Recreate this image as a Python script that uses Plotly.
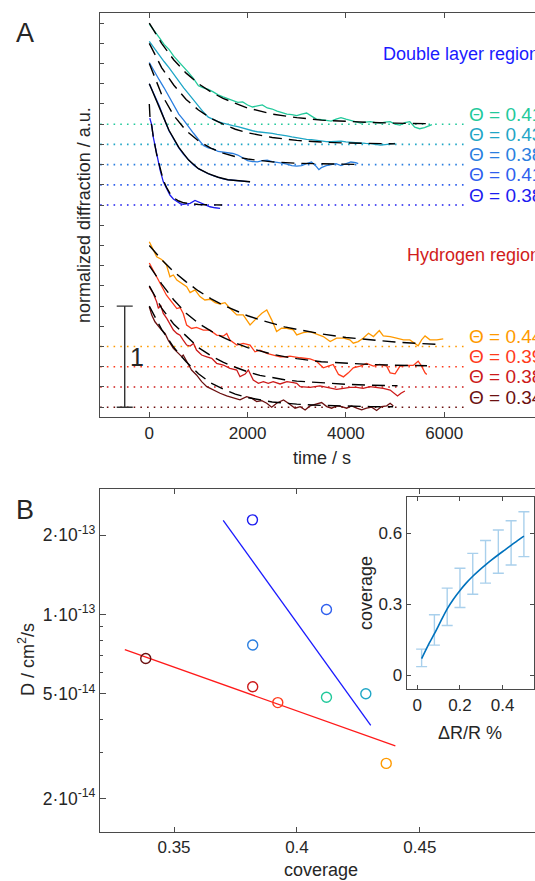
import plotly.graph_objects as go

# ---------------- DATA ----------------
# Panel A: normalized diffraction transients (normalized units, stacked by offsets)
dl_theta = ["0.41", "0.43", "0.38", "0.41", "0.38"]
dl_offsets = [2.8, 2.6, 2.4, 2.2, 2.0]
dl_colors = ["#22c99b", "#1fa6c6", "#2b7fe0", "#2f5fee", "#1c1cf0"]

h_theta = ["0.44", "0.39", "0.38", "0.34"]
h_offsets = [0.6, 0.4, 0.2, 0.0]
h_colors = ["#ff9a00", "#ff3b1c", "#cc1a1a", "#6b1010"]

baseline_extent = [-1000, 6400]

dl1_t = [0, 100, 200, 300, 400, 500, 600, 700, 800, 900, 1000, 1100, 1200, 1300, 1400, 1500, 1600, 1700, 1800, 1900,
         2000, 2100, 2200, 2300, 2400, 2500, 2600, 2700, 2800, 2900, 3000, 3100, 3200, 3300, 3400, 3500, 3600, 3700,
         3800, 3900, 4000, 4100, 4200, 4300, 4400, 4500, 4600, 4700, 4800, 4900, 5000, 5100, 5200, 5300, 5400, 5500,
         5600, 5700, 5750]
dl1_v = [0.99, 0.93, 0.86, 0.79, 0.74, 0.67, 0.62, 0.56, 0.51, 0.45, 0.38, 0.36, 0.345, 0.32, 0.29, 0.27, 0.25, 0.235,
         0.215, 0.22, 0.19, 0.17, 0.18, 0.19, 0.16, 0.15, 0.13, 0.115, 0.10, 0.095, 0.085, 0.10, 0.11, 0.08, 0.05, 0.045,
         0.04, 0.03, 0.05, 0.065, 0.05, 0.035, 0.02, 0.01, 0.02, 0.025, 0.015, 0.01, 0.02, 0.025, 0.0, -0.01, 0.015,
         0.025, -0.03, -0.045, -0.035, -0.01, -0.005]
dl1f_t = [0, 250, 500, 750, 1000, 1250, 1500, 1750, 2000, 2500, 3000, 3500, 4000, 4500, 5000, 5700]
dl1f_v = [1.0, 0.80, 0.635, 0.505, 0.40, 0.32, 0.255, 0.205, 0.16, 0.10, 0.065, 0.04, 0.025, 0.017, 0.01, 0.005]

dl2_t = [0, 100, 200, 300, 400, 500, 600, 700, 800, 900, 1000, 1100, 1200, 1300, 1400, 1500, 1600, 1700, 1800, 1900,
         2000, 2100, 2200, 2300, 2400, 2500, 2600, 2700, 2800, 2900, 3000, 3100, 3200, 3300, 3400, 3500, 3600, 3700,
         3800, 3900, 4000, 4100, 4200, 4300, 4400, 4500, 4600, 4700, 4800, 4900, 5000]
dl2_v = [1.02, 0.95, 0.89, 0.82, 0.76, 0.69, 0.62, 0.56, 0.50, 0.44, 0.37, 0.32, 0.27, 0.245, 0.225, 0.21, 0.195,
         0.185, 0.175, 0.16, 0.145, 0.135, 0.125, 0.12, 0.118, 0.11, 0.10, 0.095, 0.085, 0.075, 0.065, 0.06, 0.05,
         0.048, 0.04, 0.03, 0.028, 0.026, 0.03, 0.033, 0.025, 0.02, 0.015, 0.01, 0.01, 0.008, 0.0, -0.007, -0.002,
         0.003, 0.01]
dl2f_t = [0, 250, 500, 750, 1000, 1250, 1500, 1750, 2000, 2500, 3000, 3500, 4000, 4500, 5000]
dl2f_v = [1.0, 0.76, 0.585, 0.445, 0.34, 0.26, 0.20, 0.15, 0.115, 0.068, 0.04, 0.023, 0.014, 0.008, 0.005]

dl3_t = [0, 100, 200, 300, 400, 500, 600, 700, 800, 900, 1000, 1100, 1200, 1300, 1400, 1500, 1600, 1700, 1800, 1900,
         2000, 2100, 2200, 2300, 2400, 2500, 2600, 2700, 2800, 2900, 3000, 3100, 3200, 3300, 3400, 3450, 3500, 3600,
         3700, 3800, 3900, 4000, 4100, 4200, 4250]
dl3_v = [1.01, 0.92, 0.84, 0.76, 0.67, 0.59, 0.50, 0.44, 0.37, 0.31, 0.25, 0.19, 0.165, 0.155, 0.13, 0.125, 0.118,
         0.11, 0.095, 0.07, 0.04, 0.03, 0.028, 0.04, 0.045, 0.03, 0.025, 0.015, 0.005, -0.01, -0.015, -0.01, 0.01,
         0.026, -0.02, -0.05, -0.03, -0.01, 0.0, 0.01, -0.01, 0.005, 0.026, 0.02, 0.01]
dl3f_t = [0, 250, 500, 750, 1000, 1250, 1500, 1750, 2000, 2500, 3000, 3500, 4250]
dl3f_v = [1.0, 0.695, 0.484, 0.336, 0.234, 0.163, 0.113, 0.079, 0.055, 0.027, 0.013, 0.006, 0.002]

dl4_t = [0, 50, 100, 150, 200, 250, 300, 350, 400, 450, 500, 600, 700, 800, 900, 1000, 1100, 1200, 1300, 1400, 1500,
         1600, 1700, 1800, 1900, 2000, 2050]
dl4_v = [1.0, 0.95, 0.895, 0.845, 0.785, 0.72, 0.65, 0.595, 0.535, 0.49, 0.445, 0.365, 0.30, 0.245, 0.195, 0.16,
         0.132, 0.11, 0.09, 0.074, 0.06, 0.05, 0.044, 0.038, 0.034, 0.031, 0.03]
dl4f_t = [0, 100, 200, 300, 400, 500, 600, 800, 1000, 1200, 1400, 1600, 1800, 2050]
dl4f_v = [1.0, 0.89, 0.78, 0.655, 0.54, 0.45, 0.37, 0.245, 0.16, 0.11, 0.075, 0.05, 0.038, 0.03]

dl5_t = [10, 50, 80, 150, 220, 285, 350, 420, 490, 560, 630, 690, 760, 830, 930, 1030, 1130, 1235, 1340, 1440]
dl5_v = [0.86, 0.79, 0.675, 0.494, 0.346, 0.23, 0.16, 0.099, 0.06, 0.033, 0.015, 0.007, 0.01, 0.017, 0.045, 0.027,
         0.007, -0.017, -0.027, -0.033]
dl5f_t = [0, 15, 50, 80, 150, 220, 285, 350, 420, 500, 600, 700, 850, 1000, 1200, 1480]
dl5f_v = [1.0, 0.86, 0.78, 0.68, 0.50, 0.355, 0.245, 0.175, 0.115, 0.07, 0.04, 0.022, 0.01, 0.005, 0.002, 0.0]

h1_t = [0, 80, 150, 250, 350, 420, 490, 560, 660, 760, 830, 930, 1030, 1130, 1240, 1340, 1440, 1540, 1640, 1780,
        1910, 2050, 2150, 2290, 2390, 2490, 2590, 2690, 2800, 2930, 3000, 3130, 3270, 3400, 3540, 3680, 3810, 3950,
        4080, 4150, 4250, 4350, 4460, 4560, 4680, 4760, 4900, 5030, 5170, 5300, 5410, 5470, 5540, 5610, 5710, 5850,
        5980]
h1_v = [1.037, 0.955, 0.888, 0.862, 0.806, 0.691, 0.708, 0.658, 0.625, 0.592, 0.533, 0.56, 0.494, 0.461, 0.468,
        0.434, 0.421, 0.434, 0.379, 0.313, 0.313, 0.214, 0.264, 0.33, 0.362, 0.264, 0.148, 0.181, 0.181, 0.165, 0.115,
        0.138, 0.148, 0.125, 0.099, 0.049, 0.083, 0.083, 0.066, 0.033, 0.049, 0.083, 0.132, 0.099, 0.158, 0.105,
        0.099, 0.083, 0.066, 0.066, 0.033, 0.007, 0.066, 0.105, 0.066, 0.066, 0.076]
h1f_t = [0, 250, 500, 750, 1000, 1250, 1500, 1750, 2000, 2250, 2500, 2750, 3000, 3500, 4000, 4500, 5000, 5500, 5880]
h1f_v = [1.0, 0.86, 0.74, 0.64, 0.55, 0.475, 0.41, 0.355, 0.305, 0.265, 0.23, 0.195, 0.17, 0.125, 0.09, 0.065,
         0.045, 0.03, 0.022]

h2_t = [0, 80, 150, 220, 285, 350, 455, 560, 625, 690, 760, 860, 960, 1100, 1235, 1370, 1505, 1575, 1640, 1780, 1910,
        2050, 2150, 2250, 2390, 2520, 2660, 2800, 2860, 3070, 3270, 3400, 3540, 3640, 3740, 3850, 3950, 4050, 4150,
        4290, 4420, 4560, 4690, 4830, 4900, 5000, 5100, 5240, 5370, 5470, 5540, 5610, 5645]
h2_v = [1.027, 0.955, 0.888, 0.839, 0.774, 0.708, 0.642, 0.576, 0.586, 0.527, 0.412, 0.379, 0.389, 0.362, 0.362,
        0.313, 0.303, 0.33, 0.264, 0.214, 0.231, 0.214, 0.148, 0.165, 0.132, 0.115, 0.099, 0.099, 0.105, 0.089, 0.079,
        0.055, -0.01, 0.006, 0.023, -0.076, -0.1, -0.06, -0.01, 0.006, 0.033, 0.006, 0.023, 0.006, -0.06, -0.07,
        0.006, 0.013, 0.013, 0.055, 0.006, -0.06, -0.076]
h2f_t = [0, 250, 500, 750, 1000, 1250, 1500, 1750, 2000, 2250, 2500, 2750, 3000, 3500, 4000, 4500, 5000, 5650]
h2f_v = [1.0, 0.82, 0.66, 0.53, 0.43, 0.355, 0.29, 0.235, 0.19, 0.155, 0.125, 0.1, 0.08, 0.05, 0.035, 0.022, 0.015,
         0.01]

h3_t = [0, 80, 150, 185, 230, 285, 355, 420, 490, 560, 625, 690, 760, 830, 900, 960, 1065, 1170, 1270, 1370, 1505,
        1640, 1780, 1845, 1950, 2015, 2115, 2220, 2320, 2420, 2520, 2660, 2800, 2930, 3000, 3070, 3270, 3470, 3680,
        3810, 3950, 4080, 4220, 4350, 4490, 4630, 4760, 4900, 4990, 5050, 5120, 5200]
h3_v = [0.99, 0.925, 0.842, 0.777, 0.81, 0.728, 0.678, 0.629, 0.563, 0.53, 0.513, 0.464, 0.415, 0.405, 0.431, 0.365,
        0.316, 0.299, 0.283, 0.234, 0.217, 0.184, 0.168, 0.102, 0.128, 0.168, 0.069, 0.036, 0.052, 0.036, 0.052, 0.03,
        0.052, 0.042, 0.036, 0.003, -0.003, 0.01, -0.013, -0.023, -0.013, -0.003, -0.003, -0.013, 0.003, -0.003,
        -0.013, -0.03, -0.062, -0.089, -0.062, -0.04]
h3f_t = [0, 250, 500, 750, 1000, 1250, 1500, 1750, 2000, 2250, 2500, 2750, 3000, 3500, 4000, 4500, 5050]
h3f_v = [1.0, 0.78, 0.62, 0.5, 0.39, 0.31, 0.245, 0.195, 0.15, 0.115, 0.09, 0.072, 0.058, 0.04, 0.027, 0.018, 0.012]

h4_t = [0, 50, 115, 185, 250, 320, 385, 490, 590, 660, 690, 760, 860, 960, 1065, 1170, 1300, 1440, 1575, 1710, 1845,
        1980, 2085, 2185, 2290, 2390, 2490, 2590, 2730, 2830, 2930, 2965, 3070, 3170, 3270, 3405, 3505, 3610, 3710,
        3810, 3915, 4015, 4115, 4220, 4320, 4420, 4525, 4625, 4725, 4830, 4900, 4965]
h4_v = [0.993, 0.911, 0.845, 0.796, 0.763, 0.73, 0.664, 0.582, 0.533, 0.5, 0.516, 0.45, 0.368, 0.319, 0.253, 0.203,
        0.171, 0.138, 0.112, 0.089, 0.072, 0.105, 0.089, 0.055, 0.065, 0.039, 0.0, 0.039, 0.072, 0.039, 0.006, -0.01,
        0.006, -0.027, 0.013, 0.033, 0.046, 0.006, -0.01, 0.013, 0.006, -0.01, 0.013, -0.01, -0.027, -0.01, 0.0,
        -0.033, 0.006, 0.013, 0.039, 0.013]
h4f_t = [0, 250, 500, 750, 1000, 1250, 1500, 1750, 2000, 2250, 2500, 2750, 3000, 3500, 4000, 4500, 4960]
h4f_v = [1.0, 0.77, 0.59, 0.45, 0.33, 0.24, 0.18, 0.13, 0.095, 0.07, 0.052, 0.04, 0.03, 0.018, 0.01, 0.006, 0.004]

scale_bar_time = -500
scale_bar_span = [0.0, 1.0]

# Panel B: diffusion coefficient vs coverage
cov_dl = [0.412, 0.428, 0.382, 0.412, 0.3819]
D_dl = [4.85e-14, 5.0e-14, 7.66e-14, 1.045e-13, 2.29e-13]
cov_h = [0.4363, 0.3922, 0.382, 0.3385]
D_h = [2.72e-14, 4.63e-14, 5.32e-14, 6.81e-14]
dl_fit_cov = [0.37, 0.43]
dl_fit_D = [2.28e-13, 3.79e-14]
h_fit_cov = [0.33, 0.44]
h_fit_D = [7.36e-14, 3.17e-14]
B_ytickvals = [2e-14, 5e-14, 1e-13, 2e-13]
B_yticktext = ["2·10<sup>-14</sup>", "5·10<sup>-14</sup>", "1·10<sup>-13</sup>", "2·10<sup>-13</sup>"]
B_yminor = [3e-14, 4e-14, 6e-14, 7e-14, 8e-14, 9e-14, 3e-13]
B_xtickvals = [0.35, 0.4, 0.45]
B_xticktext = ["0.35", "0.4", "0.45"]

# Inset: coverage calibration vs dR/R
ins_curve_x = [0.02, 0.05, 0.08, 0.11, 0.14, 0.17, 0.20, 0.23, 0.26, 0.29, 0.32, 0.35, 0.38, 0.41, 0.44, 0.47, 0.50]
ins_curve_y = [0.07, 0.125, 0.175, 0.228, 0.28, 0.322, 0.358, 0.39, 0.418, 0.443, 0.466, 0.488, 0.509, 0.529, 0.549,
               0.569, 0.588]
ins_err_x = [0.02, 0.08, 0.14, 0.20, 0.26, 0.32, 0.38, 0.44, 0.50]
ins_err_y = [0.07, 0.175, 0.28, 0.358, 0.418, 0.466, 0.509, 0.549, 0.588]
ins_err_hi = [0.11, 0.255, 0.368, 0.452, 0.515, 0.569, 0.614, 0.653, 0.691]
ins_err_lo = [0.036, 0.127, 0.21, 0.286, 0.342, 0.389, 0.431, 0.466, 0.501]

# ---------------- FIGURE ----------------
W, H = 535, 881
FONT = "Liberation Sans, Arial, Helvetica, sans-serif"
AX = "#4a4a4a"
TXT = "#262626"


def fx(p):
    return p / W


def fy(p):
    return 1 - p / H


fig = go.Figure()

dl_series = [(dl1_t, dl1_v, dl1f_t, dl1f_v), (dl2_t, dl2_v, dl2f_t, dl2f_v), (dl3_t, dl3_v, dl3f_t, dl3f_v),
             (dl4_t, dl4_v, dl4f_t, dl4f_v), (dl5_t, dl5_v, dl5f_t, dl5f_v)]
h_series = [(h1_t, h1_v, h1f_t, h1f_v), (h2_t, h2_v, h2f_t, h2f_v), (h3_t, h3_v, h3f_t, h3f_v),
            (h4_t, h4_v, h4f_t, h4f_v)]

groups = [(dl_series, dl_offsets, dl_colors, dl_theta, [False, False, False, True, False]),
          (h_series, h_offsets, h_colors, h_theta, [False, False, False, False])]

# baselines
for series, offs, cols, th, solid in groups:
    for off, c in zip(offs, cols):
        fig.add_trace(go.Scatter(x=baseline_extent, y=[off, off], mode="lines",
                                 line=dict(color=c, width=1.6, dash="1.6px,5.1px"),
                                 xaxis="x", yaxis="y", hoverinfo="skip"))
# data
for series, offs, cols, th, solid in groups:
    for (t, v, ft, fv), off, c in zip(series, offs, cols):
        fig.add_trace(go.Scatter(x=t, y=[a + off for a in v], mode="lines",
                                 line=dict(color=c, width=1.3), xaxis="x", yaxis="y"))
# fits
for series, offs, cols, th, solid in groups:
    for (t, v, ft, fv), off, s in zip(series, offs, solid):
        fig.add_trace(go.Scatter(x=ft, y=[a + off for a in fv], mode="lines",
                                 line=dict(color="black", width=1.4, dash="solid" if s else "13px,7px"),
                                 xaxis="x", yaxis="y"))

# scale bar
fig.add_trace(go.Scatter(x=[scale_bar_time], y=[(scale_bar_span[0] + scale_bar_span[1]) / 2], mode="markers",
                         marker=dict(size=1, color="rgba(0,0,0,0)"),
                         error_y=dict(type="constant", value=(scale_bar_span[1] - scale_bar_span[0]) / 2,
                                      color="#333333", thickness=1.4, width=8),
                         xaxis="x", yaxis="y"))

# Panel B
fig.add_trace(go.Scatter(x=dl_fit_cov, y=dl_fit_D, mode="lines", line=dict(color="#1a1aff", width=1.3),
                         xaxis="x2", yaxis="y2"))
fig.add_trace(go.Scatter(x=h_fit_cov, y=h_fit_D, mode="lines", line=dict(color="#ff1a1a", width=1.3),
                         xaxis="x2", yaxis="y2"))
fig.add_trace(go.Scatter(x=cov_dl, y=D_dl, mode="markers",
                         marker=dict(symbol="circle-open", size=10, color=dl_colors, line=dict(width=1.4)),
                         xaxis="x2", yaxis="y2"))
fig.add_trace(go.Scatter(x=cov_h, y=D_h, mode="markers",
                         marker=dict(symbol="circle-open", size=10, color=h_colors, line=dict(width=1.4)),
                         xaxis="x2", yaxis="y2"))

# Inset
fig.add_trace(go.Scatter(x=ins_err_x, y=ins_err_y, mode="markers", marker=dict(size=1, color="rgba(0,0,0,0)"),
                         error_y=dict(type="data", symmetric=False,
                                      array=[h - y for h, y in zip(ins_err_hi, ins_err_y)],
                                      arrayminus=[y - l for l, y in zip(ins_err_lo, ins_err_y)],
                                      color="#a9d0ec", thickness=1.4, width=5.5),
                         xaxis="x3", yaxis="y3"))
fig.add_trace(go.Scatter(x=ins_curve_x, y=ins_curve_y, mode="lines",
                         line=dict(color="#0072bd", width=1.6, shape="spline", smoothing=0.8),
                         xaxis="x3", yaxis="y3"))

common = dict(showline=True, linecolor=AX, linewidth=1.1, ticks="inside", tickcolor=AX, showgrid=False,
              zeroline=False, tickfont=dict(size=17, color=TXT, family=FONT))

fig.update_layout(
    width=W, height=H, margin=dict(l=0, r=0, t=0, b=0), showlegend=False,
    paper_bgcolor="white", plot_bgcolor="rgba(0,0,0,0)", font=dict(family=FONT, color=TXT),
    xaxis=dict(domain=[fx(100), 1], range=[-1003, 7847], tickvals=[0, 2000, 4000, 6000], mirror="ticks",
               ticklen=5, anchor="y", **common),
    yaxis=dict(domain=[fy(417.3), fy(13)], range=[-0.1, 3.9], tick0=0, dtick=0.2, showticklabels=False,
               ticklen=4, mirror=False, anchor="x", **common),
    xaxis2=dict(domain=[fx(100), 1], range=[0.3199, 0.4968], tickvals=B_xtickvals, ticktext=B_xticktext,
                mirror="ticks", ticklen=5, anchor="y2", **common),
    yaxis2=dict(domain=[fy(831.7), fy(489.3)], type="log", range=[-13.825, -12.524], tickvals=B_ytickvals,
                ticktext=B_yticktext, ticklen=6, mirror=False, anchor="x2",
                minor=dict(ticks="inside", ticklen=3, tickcolor=AX, tickvals=B_yminor), **common),
    xaxis3=dict(domain=[fx(406.7), fx(533.7)], range=[-0.05, 0.546], tickvals=[0, 0.2, 0.4],
                ticktext=["0", "0.2", "0.4"], mirror="ticks", ticklen=4, anchor="y3", **common),
    yaxis3=dict(domain=[fy(689.3), fy(497.3)], range=[-0.06, 0.752], tickvals=[0, 0.3, 0.6],
                ticktext=["0", "0.3", "0.6"], mirror="ticks", ticklen=4, anchor="x3", **common),
)
fig.update_yaxes(tickfont=dict(size=17.5), selector=dict(type="log"))


def ann(text, x, y, size, color=TXT, xanchor="center", yanchor="middle", angle=0, xref="paper", yref="paper",
        yshift=0):
    fig.add_annotation(text=text, x=x, y=y, xref=xref, yref=yref, showarrow=False, xanchor=xanchor,
                       yanchor=yanchor, textangle=angle, yshift=yshift,
                       font=dict(size=size, color=color, family=FONT))


ann("A", fx(25), fy(33), 27)
ann("B", fx(25), fy(509.5), 27)
ann("Double layer region", fx(381), fy(53.5), 18, color="#1a1aff", xanchor="left")
ann("Hydrogen region", fx(405), fy(255), 18, color="#d11c1c", xanchor="left")
for offs, cols, th in [(dl_offsets, dl_colors, dl_theta), (h_offsets, h_colors, h_theta)]:
    for off, c, t in zip(offs, cols, th):
        ann("\u0398 = " + t, 6460, off, 19, color=c, xanchor="left", xref="x", yref="y", yshift=10)
ann("1", fx(137), fy(357.5), 25)
ann("time / s", fx(321.7), fy(458), 18)
ann("normalized diffraction / a.u.", fx(84), fy(215), 18, angle=-90)
ann("coverage", fx(321), fy(870), 18)
ann("D / cm<sup>2</sup>/s", fx(26), fy(660), 18, angle=-90)
ann("coverage", fx(366), fy(593), 18, angle=-90)
ann("\u0394R/R %", fx(470), fy(733), 18)

fig.write_html("out.html", config={"displayModeBar": False},
               post_script="document.body.style.margin='0';document.body.style.overflow='hidden';")
